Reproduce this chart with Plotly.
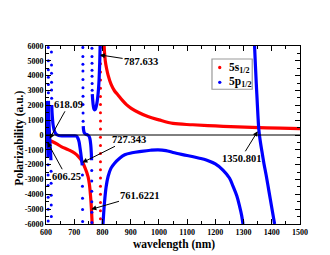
import plotly.graph_objects as go

# ---------------- data ----------------
# 5s1/2 (red)
red_a_x = [600, 610, 620, 640, 654, 680, 702, 715, 727, 738, 749, 754, 758, 761, 763.5]
red_a_y = [-250, -330, -420, -620, -780, -1000, -1230, -1460, -1750, -2200, -2800, -3350, -4150, -5000, -6000]
red_dots_x = [793, 793, 793, 793, 793, 793, 793, 793, 793, 793, 793,
              793, 793, 793, 793, 793, 793, 793, 793, 793, 793, 793]
red_dots_y = [5900, 5350, 4800, 4250, 3700, 3150, 2600, 2050, 1500, 950, 400,
              -150, -700, -1250, -1800, -2350, -2900, -3450, -4000, -4550, -5100, -5650]
red_b_x = [806, 810, 815, 820, 830, 842, 855, 870, 885, 902, 930, 961, 1000, 1050,
           1120, 1200, 1280, 1355, 1430, 1500]
red_b_y = [6000, 5000, 4450, 4040, 3450, 3000, 2700, 2350, 2050, 1800, 1500, 1240, 1020, 780,
           690, 610, 550, 500, 460, 430]

# 5p1/2 (blue) - solid parts
blue_s1_x = [600, 601.5, 603, 604.5, 605.5, 606.3, 607]
blue_s1_y = [2300, 1200, 400, -200, -480, -900, -1500]
blue_s2_x = [608.6, 609.5, 610.5, 611.5, 612.5, 613.5, 615, 616.5, 617.5]
blue_s2_y = [2300, 1500, 900, 400, 0, -350, -800, -1300, -1700]
blue_s3_x = [620.3, 621.5, 623, 625, 628, 631, 636, 645, 660, 680, 700, 708, 713, 717, 720, 723, 726, 728.5]
blue_s3_y = [2020, 1500, 1100, 700, 400, 200, 60, -40, -60, -60, -60, -80, -220, -450, -800, -1200, -1650, -2050]
blue_s4_x = [732, 733, 735, 738, 742, 748, 753, 756, 758.5, 760.5, 761.5]
blue_s4_y = [600, 350, 180, 90, 40, 0, -100, -300, -650, -1200, -1700]
blue_s5_x = [764, 765.5, 767, 769, 771, 773, 775, 777, 780, 783, 786, 788, 789.5, 790.8, 791.8]
blue_s5_y = [2750, 2350, 2050, 1820, 1720, 1700, 1740, 1850, 2100, 2500, 3100, 3700, 4400, 5200, 6000]
blue_s6_x = [802, 805, 808, 813, 820, 830, 843, 860, 879, 905, 938, 970, 997, 1025, 1050,
             1100, 1140, 1168, 1200, 1227, 1250, 1263, 1276, 1286, 1293, 1298]
blue_s6_y = [-6000, -5100, -4390, -3500, -2800, -2250, -1900, -1580, -1335, -1200, -1105, -1030, -1000, -1050, -1180,
             -1380, -1550, -1680, -1950, -2360, -2900, -3470, -4100, -4810, -5400, -6000]
blue_s7_x = [1339, 1342, 1345, 1348, 1351, 1354, 1358, 1365, 1372, 1380, 1390, 1400, 1410]
blue_s7_y = [6000, 4700, 3500, 2400, 1300, 400, -250, -1100, -1900, -2700, -3800, -4900, -6000]

# 5p1/2 (blue) - steep parts, drawn as separate symbols
blue_dots_x = [607.3, 607.4, 607.5, 607.6, 607.7, 607.8,
               608.0, 608.1, 608.2, 608.3, 608.4, 608.5,
               618.0, 618.2, 618.4, 618.6, 618.8,
               619.3, 619.5, 619.6, 619.7, 619.8, 620.0,
               729.0, 729.2, 729.4, 729.6, 729.8,
               730.5, 730.6, 730.7, 730.8, 730.9, 731.0, 731.1, 731.2, 731.3, 731.5,
               762.0, 762.1, 762.2, 762.3, 762.4, 762.6,
               762.8, 762.9, 763.0, 763.1, 763.2, 763.4, 763.6]
blue_dots_y = [-2000, -2700, -3400, -4200, -5000, -5800,
               5900, 5000, 4400, 3900, 3400, 2850,
               -2450, -3250, -4060, -4720, -5500,
               5600, 4720, 4160, 3550, 3030, 2470,
               -2700, -3460, -4270, -5020, -5830,
               5900, 5300, 4770, 4320, 3750, 3190, 2620, 2050, 1490, 930,
               -2400, -3100, -3800, -4500, -5200, -5900,
               5840, 5300, 4830, 4360, 3960, 3480, 3010]

x_ticks = [600, 700, 800, 900, 1000, 1100, 1200, 1300, 1400, 1500]
x_ticktext = ["600", "700", "800", "900", "1000", "1100", "1200", "1300", "1400", "1500"]
y_ticks = [-6000, -5000, -4000, -3000, -2000, -1000, 0, 1000, 2000, 3000, 4000, 5000, 6000]
y_ticktext = ["-6000", "-5000", "-4000", "-3000", "-2000", "-1000", "0",
              "1000", "2000", "3000", "4000", "5000", "6000"]

labels_text = ["787.633", "618.09", "727.343", "606.25", "761.6221", "1350.801"]
labels_tip_x = [791, 613, 729, 605, 760.5, 1350]
labels_tip_y = [5400, -250, -1860, -480, -5010, 250]
labels_txt_x = [937, 681, 894, 671, 933, 1291]
labels_txt_y = [4970, 2070, -290, -2780, -4060, -1570]

legend_names = ["5s<sub>1/2</sub>", "5p<sub>1/2</sub>"]

# ---------------- figure ----------------
RED = "#ff0000"
BLUE = "#0000ff"
FONT = "Liberation Serif"

fig = go.Figure()

line_red = dict(color=RED, width=3.2)
line_blue = dict(color=BLUE, width=3.2)

for xs, ys in [(red_a_x, red_a_y), (red_b_x, red_b_y)]:
    fig.add_trace(go.Scatter(x=xs, y=ys, mode="lines", line=line_red,
                             line_shape="spline", showlegend=False, hoverinfo="skip"))
fig.add_trace(go.Scatter(x=red_dots_x, y=red_dots_y, mode="markers",
                         marker=dict(color=RED, size=3), showlegend=False, hoverinfo="skip"))

for xs, ys in [(blue_s1_x, blue_s1_y), (blue_s2_x, blue_s2_y), (blue_s3_x, blue_s3_y),
               (blue_s4_x, blue_s4_y), (blue_s5_x, blue_s5_y), (blue_s6_x, blue_s6_y),
               (blue_s7_x, blue_s7_y)]:
    fig.add_trace(go.Scatter(x=xs, y=ys, mode="lines", line=line_blue,
                             line_shape="spline", showlegend=False, hoverinfo="skip"))
fig.add_trace(go.Scatter(x=blue_dots_x, y=blue_dots_y, mode="markers",
                         marker=dict(color=BLUE, size=3), showlegend=False, hoverinfo="skip"))

# zero line
fig.add_shape(type="line", xref="paper", x0=0, x1=1, yref="y", y0=0, y1=0,
              line=dict(color="black", width=1), layer="above")

# labelled arrows
for t, tx, ty, ax, ay in zip(labels_text, labels_tip_x, labels_tip_y, labels_txt_x, labels_txt_y):
    fig.add_annotation(x=tx, y=ty, xref="x", yref="y", ax=ax, ay=ay, axref="x", ayref="y",
                       text=t, showarrow=True, arrowhead=2, arrowsize=1, arrowwidth=1,
                       arrowcolor="black", standoff=0,
                       font=dict(family=FONT, size=10.5, color="black", weight="bold"))

# legend box (drawn by hand to keep its compact size)
fig.add_shape(type="rect", xref="paper", yref="paper", x0=0.6535, x1=0.812, y0=0.757, y1=0.927,
              line=dict(color="#999999", width=1.2), fillcolor="white", layer="above")
for yy, col in [(0.879, RED), (0.796, BLUE)]:
    fig.add_shape(type="circle", xref="paper", yref="paper",
                  x0=0.684 - 0.0066, x1=0.684 + 0.0066, y0=yy - 0.0094, y1=yy + 0.0094,
                  line=dict(color=col, width=0), fillcolor=col, layer="above")
for name, yy in zip(legend_names, [0.879, 0.796]):
    fig.add_annotation(x=0.711, y=yy, xref="paper", yref="paper", text=name, showarrow=False,
                       xanchor="left", yanchor="middle",
                       font=dict(family=FONT, size=11.5, color="black", weight="bold"))

# axis titles
fig.add_annotation(x=-0.106, y=0.48, xref="paper", yref="paper", text="Polarizability (a.u.)",
                   textangle=-90, showarrow=False, xanchor="center", yanchor="middle",
                   font=dict(family=FONT, size=11.5, color="black", weight="bold"))
fig.add_annotation(x=0.504, y=-0.116, xref="paper", yref="paper", text="wavelength (nm)",
                   showarrow=False, xanchor="center", yanchor="middle",
                   font=dict(family=FONT, size=11.5, color="black", weight="bold"))

axis_common = dict(showline=True, linecolor="black", linewidth=1, mirror="ticks",
                   ticks="inside", ticklen=5, tickwidth=1, tickcolor="black",
                   showgrid=False, zeroline=False,
                   tickfont=dict(family=FONT, size=8, color="black", weight="bold"))

fig.update_layout(
    width=330, height=255,
    margin=dict(l=38, r=38, t=38, b=39, pad=0),
    paper_bgcolor="white", plot_bgcolor="white",
    showlegend=False,
    font=dict(family=FONT, color="black"),
    xaxis=dict(range=[600, 1500], tickmode="array", tickvals=x_ticks, ticktext=x_ticktext,
               minor=dict(tickmode="linear", tick0=600, dtick=50, ticks="inside", ticklen=3,
                          tickcolor="black"),
               **axis_common),
    yaxis=dict(range=[-6000, 6000], tickmode="array", tickvals=y_ticks, ticktext=y_ticktext,
               minor=dict(tickmode="linear", tick0=-6000, dtick=500, ticks="inside", ticklen=3,
                          tickcolor="black"),
               **axis_common),
)

fig.write_html("out.html")
